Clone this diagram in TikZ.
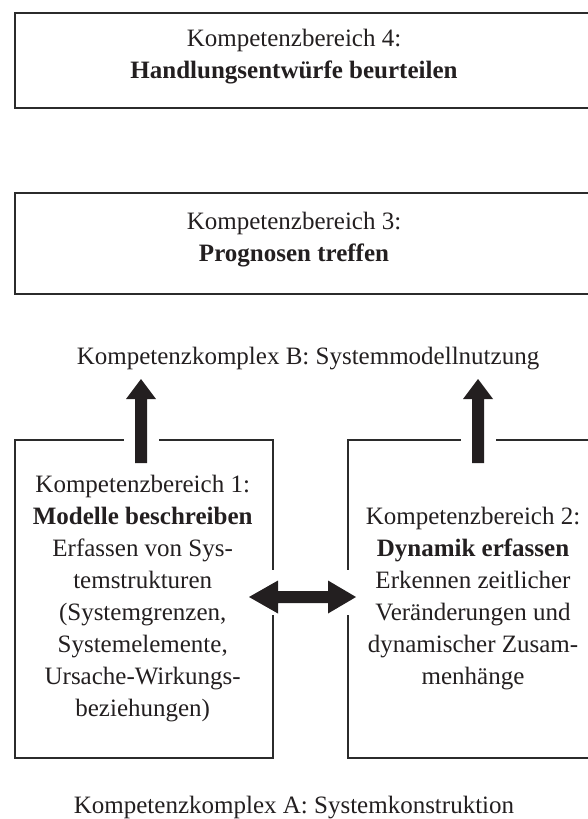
\documentclass[tikz,border=0pt]{standalone}
\usepackage{fontspec}
\setmainfont{Liberation Serif}
\usetikzlibrary{calc}
\definecolor{ink}{HTML}{231F20}
\definecolor{framec}{HTML}{2B2B2B}
\tikzset{
  frame/.style={draw=framec, line width=2pt, fill=none, inner sep=0pt, anchor=north west},
  lbl/.style={text=ink, font=\fontsize{25}{32}\selectfont, align=center, inner sep=0pt},
  gapfill/.style={fill=white, draw=none},
  bigarrow/.style={fill=ink, draw=none}
}
\begin{document}
\begin{tikzpicture}[x=1pt,y=-1pt]
\useasboundingbox (0,0) rectangle (588,819);
\clip (0,0) rectangle (588,819);
% boxes
\node[frame, minimum width=620pt, minimum height=95pt] (box4) at (13.5,12.3) {};
\node[frame, minimum width=620pt, minimum height=101pt] (box3) at (13.5,192) {};
\node[frame, minimum width=258.5pt, minimum height=318pt] (box1) at (13.5,439) {};
\node[frame, minimum width=255pt, minimum height=318pt] (box2) at (347,439) {};
% gaps in the frames
\fill[gapfill] (124,433) rectangle (159,445);
\fill[gapfill] (461,433) rectangle (496,445);
\fill[gapfill] (266,570) rectangle (278,615);
\fill[gapfill] (341,570) rectangle (353,615);
% up arrows
\coordinate (aLs) at (141,463); \coordinate (aLt) at (141,379);
\coordinate (aRs) at (478,463); \coordinate (aRt) at (478,379);
\fill[bigarrow] ($(aLs)+(-6,0)$) -- ($(aLt)+(-6,20)$) -- ($(aLt)+(-15,20)$) -- (aLt) -- ($(aLt)+(15,20)$) -- ($(aLt)+(6,20)$) -- ($(aLs)+(6,0)$) -- cycle;
\fill[bigarrow] ($(aRs)+(-6,0)$) -- ($(aRt)+(-6,20)$) -- ($(aRt)+(-15,20)$) -- (aRt) -- ($(aRt)+(15,20)$) -- ($(aRt)+(6,20)$) -- ($(aRs)+(6,0)$) -- cycle;
% double arrow
\coordinate (dL) at (249,597); \coordinate (dR) at (356,597);
\fill[bigarrow] (dL) -- ($(dL)+(29,-16.5)$) -- ($(dL)+(29,-6)$) -- ($(dR)+(-28,-6)$) -- ($(dR)+(-28,-16.5)$) -- (dR) -- ($(dR)+(-28,16.5)$) -- ($(dR)+(-28,6)$) -- ($(dL)+(29,6)$) -- ($(dL)+(29,16.5)$) -- cycle;
% texts
\node[lbl] (t4) at (294,56.5) {Kompetenzbereich 4:\\\textbf{Handlungsentwürfe beurteilen}};
\node[lbl] (t3) at (294,240) {Kompetenzbereich 3:\\\textbf{Prognosen treffen}};
\node[lbl] (kB) at (308,359) {Kompetenzkomplex B: Systemmodellnutzung};
\node[lbl] (t1) at (142.7,599) {Kompetenzbereich 1:\\\textbf{Modelle beschreiben}\\Erfassen von Sys-\\temstrukturen\\(Systemgrenzen,\\Systemelemente,\\Ursache-Wirkungs-\\beziehungen)};
\node[lbl] (t2) at (473,599) {Kompetenzbereich 2:\\\textbf{Dynamik erfassen}\\Erkennen zeitlicher\\Veränderungen und\\dynamischer Zusam-\\menhänge};
\node[lbl] (kA) at (294,808) {Kompetenzkomplex A: Systemkonstruktion};
\end{tikzpicture}
\end{document}
